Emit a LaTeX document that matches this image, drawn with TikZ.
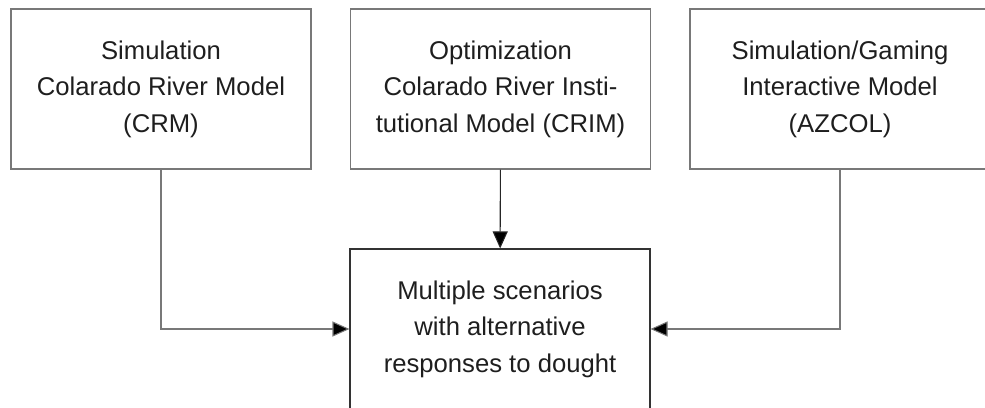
\documentclass[tikz,border=0pt]{standalone}
\usepackage{fontspec}
\setmainfont{Liberation Sans}
\usetikzlibrary{arrows.meta, positioning}
\definecolor{frame1}{RGB}{120,120,120}
\definecolor{text1}{RGB}{30,30,30}

\begin{document}
\begin{tikzpicture}[
    model/.style={draw=frame1, line width=0.6pt, minimum width=6cm, minimum height=3.2cm, align=center, text=text1,
      font=\fontsize{14.6}{20.8}\selectfont},
    result/.style={model, draw=black!80},
    flowarrow/.style={draw=frame1, line width=0.6pt, -{Triangle[length=0.34cm, width=0.3cm, fill=black]}},
    mainarrow/.style={flowarrow, draw=black!85}
]
    \useasboundingbox (0,0) rectangle (19.7,8.14);

    \node[model, name=crm] at (3.22,6.36) {Simulation\\Colarado River Model\\(CRM)};
    \node[model, name=crim] at (10.01,6.36) {Optimization\\Colarado River Insti-\\tutional Model (CRIM)};
    \node[model, name=azcol] at (16.8,6.36) {Simulation/Gaming\\Interactive Model\\(AZCOL)};

    \node[result, name=scen] at (10,1.56) {Multiple scenarios\\with alternative\\responses to dought};

    \draw[mainarrow] (crim) -- (scen);
    \draw[flowarrow] (crm.south) |- (scen.west);
    \draw[flowarrow] (azcol.south) |- (scen.east);

\end{tikzpicture}
\end{document}
